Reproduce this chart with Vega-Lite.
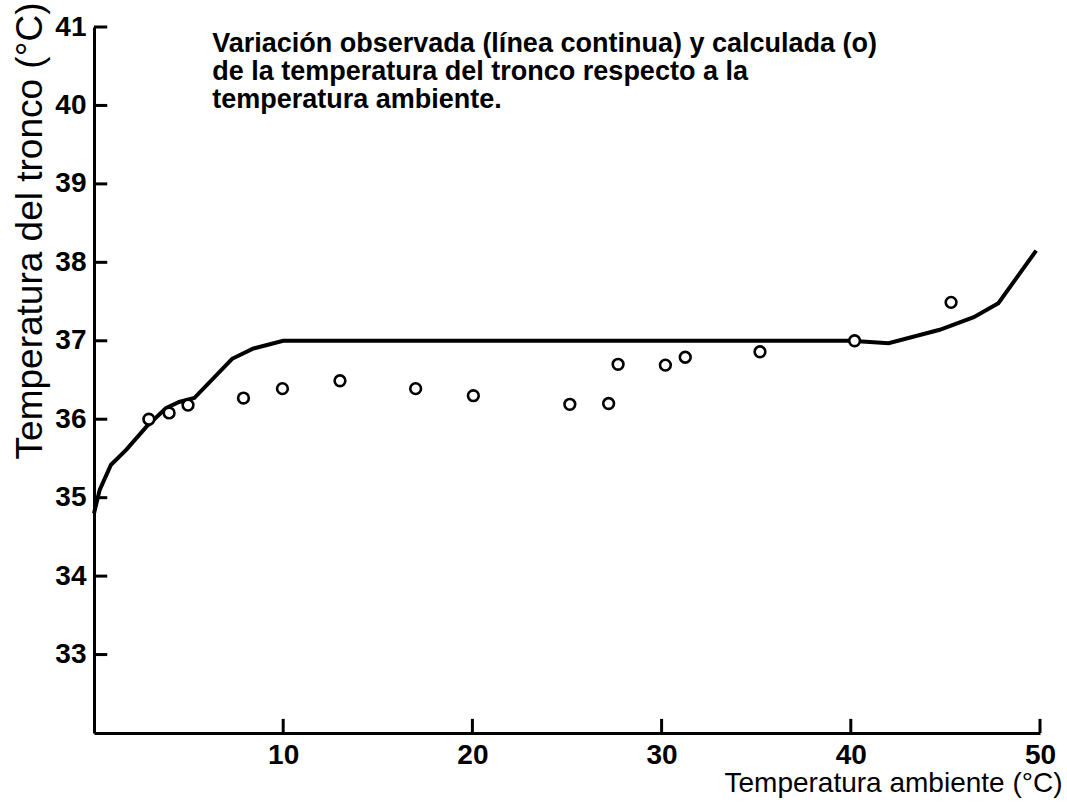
{
  "$schema": "https://vega.github.io/schema/vega-lite/v6.json",
  "autosize": "none",
  "width": 946,
  "height": 706,
  "padding": {"left": 94, "top": 27, "right": 27, "bottom": 70},
  "background": "white",
  "config": {"view": {"stroke": null}, "font": "Liberation Sans"},
  "datasets": {
    "observada": [
      {"ta": 0, "tt": 34.8},
      {"ta": 0.3, "tt": 35.1},
      {"ta": 0.9, "tt": 35.42},
      {"ta": 1.7, "tt": 35.61},
      {"ta": 2.75, "tt": 35.9},
      {"ta": 3.8, "tt": 36.14},
      {"ta": 4.5, "tt": 36.22},
      {"ta": 5.3, "tt": 36.27},
      {"ta": 7.3, "tt": 36.77},
      {"ta": 8.4, "tt": 36.9},
      {"ta": 10, "tt": 37.0},
      {"ta": 20, "tt": 37.0},
      {"ta": 30, "tt": 37.0},
      {"ta": 40, "tt": 37.0},
      {"ta": 42, "tt": 36.97},
      {"ta": 44.7, "tt": 37.14},
      {"ta": 46.5, "tt": 37.3},
      {"ta": 47.8, "tt": 37.48},
      {"ta": 49.8, "tt": 38.15}
    ],
    "calculada": [
      {"ta": 2.9, "tt": 36.0},
      {"ta": 3.97, "tt": 36.08},
      {"ta": 4.97, "tt": 36.18},
      {"ta": 7.9, "tt": 36.27},
      {"ta": 9.96, "tt": 36.39},
      {"ta": 13.0, "tt": 36.49},
      {"ta": 17.0, "tt": 36.39},
      {"ta": 20.05, "tt": 36.3},
      {"ta": 25.15, "tt": 36.19},
      {"ta": 27.2, "tt": 36.2},
      {"ta": 27.7, "tt": 36.7},
      {"ta": 30.2, "tt": 36.69},
      {"ta": 31.25, "tt": 36.79},
      {"ta": 35.2, "tt": 36.86},
      {"ta": 40.2, "tt": 37.0},
      {"ta": 45.3, "tt": 37.49}
    ],
    "nota": [
      {"ta": 6.25, "tt": 40.78, "texto": "Variación observada (línea continua) y calculada (o)"},
      {"ta": 6.25, "tt": 40.43, "texto": "de la temperatura del tronco respecto a la"},
      {"ta": 6.25, "tt": 40.07, "texto": "temperatura ambiente."}
    ],
    "marcasx": [{"v": 10}, {"v": 20}, {"v": 30}, {"v": 40}, {"v": 50}],
    "marcasy": [{"v": 33}, {"v": 34}, {"v": 35}, {"v": 36}, {"v": 37}, {"v": 38}, {"v": 39}, {"v": 40}, {"v": 41}]
  },
  "layer": [
    {
      "data": {"name": "observada"},
      "mark": {"type": "line", "color": "black", "strokeWidth": 4},
      "encoding": {
        "x": {
          "field": "ta", "type": "quantitative",
          "scale": {"domain": [0, 50], "nice": false, "zero": false},
          "axis": {
            "values": [10, 20, 30, 40, 50],
            "format": "d",
            "grid": false,
            "ticks": false,
            "domainColor": "black", "domainWidth": 3,
            "labelFontSize": 28, "labelFontWeight": "bold", "labelColor": "black",
            "labelPadding": 8, "labelFlush": false,
            "title": "Temperatura ambiente (°C)",
            "titleFontSize": 28, "titleFontWeight": "normal", "titleColor": "black",
            "titleX": 968, "titleY": 50, "titleAlign": "right", "titleBaseline": "middle", "titleAngle": 0
          }
        },
        "y": {
          "field": "tt", "type": "quantitative",
          "scale": {"domain": [32, 41], "nice": false, "zero": false},
          "axis": {
            "values": [33, 34, 35, 36, 37, 38, 39, 40, 41],
            "format": "d",
            "grid": false,
            "ticks": false,
            "domainColor": "black", "domainWidth": 3,
            "labelFontSize": 28, "labelFontWeight": "bold", "labelColor": "black",
            "labelPadding": 8, "labelFlush": false,
            "title": "Temperatura del tronco (°C)",
            "titleFontSize": 37, "titleFontWeight": "normal", "titleColor": "black",
            "titleX": -64, "titleY": -25, "titleAlign": "right", "titleBaseline": "middle", "titleAngle": 270
          }
        }
      }
    },
    {
      "data": {"name": "marcasx"},
      "mark": {"type": "rule", "color": "black", "strokeWidth": 3},
      "encoding": {
        "x": {"field": "v", "type": "quantitative"},
        "y": {"datum": 32},
        "y2": {"datum": 32.18}
      }
    },
    {
      "data": {"name": "marcasy"},
      "mark": {"type": "rule", "color": "black", "strokeWidth": 3},
      "encoding": {
        "y": {"field": "v", "type": "quantitative"},
        "x": {"datum": 0},
        "x2": {"datum": 0.7}
      }
    },
    {
      "data": {"name": "calculada"},
      "mark": {"type": "point", "shape": "circle", "filled": false, "fill": "white", "fillOpacity": 1, "stroke": "black", "strokeWidth": 2.6, "size": 115, "opacity": 1},
      "encoding": {
        "x": {"field": "ta", "type": "quantitative"},
        "y": {"field": "tt", "type": "quantitative"}
      }
    },
    {
      "data": {"name": "nota"},
      "mark": {"type": "text", "align": "left", "baseline": "middle", "fontSize": 27, "fontWeight": "bold", "color": "black"},
      "encoding": {
        "x": {"field": "ta", "type": "quantitative"},
        "y": {"field": "tt", "type": "quantitative"},
        "text": {"field": "texto"}
      }
    }
  ]
}
